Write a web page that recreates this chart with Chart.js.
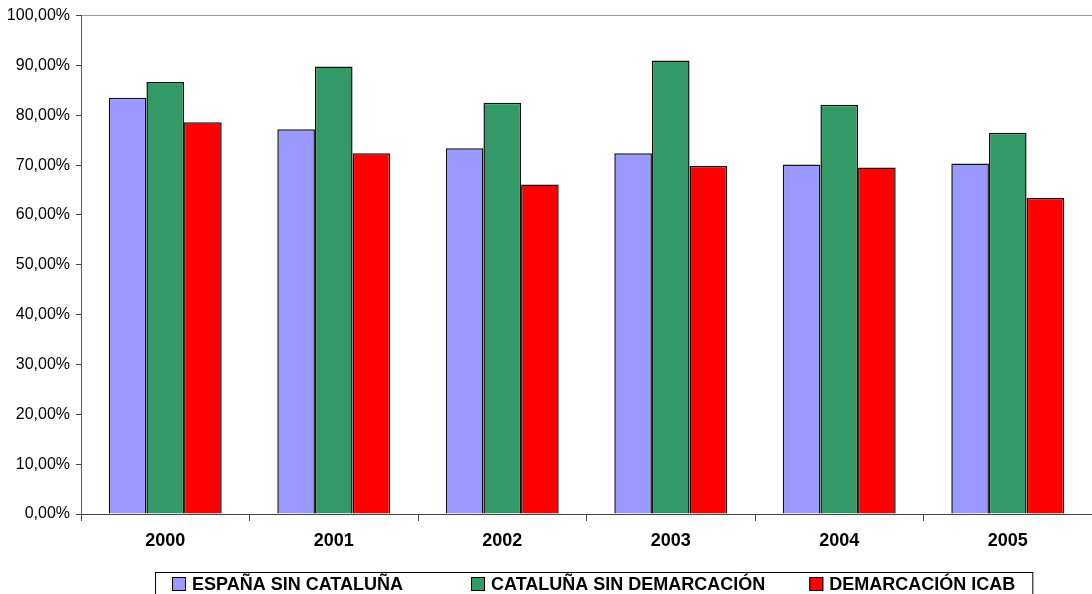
<!DOCTYPE html>
<html>
<head>
<meta charset="utf-8">
<script src="https://cdn.jsdelivr.net/npm/chart.js@4/dist/chart.umd.min.js"></script>
<style>
  html, body { margin: 0; padding: 0; background: #fff; }
  #wrap { width: 1092px; height: 594px; }
</style>
</head>
<body>
<div id="wrap"><canvas id="barChart"></canvas></div>
<script>
// data
const years = ["2000", "2001", "2002", "2003", "2004", "2005"];
const espanaSinCataluna = [83.5, 77.2, 73.4, 72.4, 70.1, 70.3];
const catalunaSinDemarcacion = [86.7, 89.8, 82.5, 91.0, 82.1, 76.5];
const demarcacionIcab = [78.6, 72.4, 66.1, 69.8, 69.5, 63.4];
const seriesNames = ["ESPAÑA SIN CATALUÑA", "CATALUÑA SIN DEMARCACIÓN", "DEMARCACIÓN ICAB"];

const FONT = "Arial, 'Liberation Sans', sans-serif";

// Excel style legend: boxed row at the bottom, built from the datasets
const boxedLegend = {
    id: "boxedLegend",
    afterDraw(chart) {
        let ctx = chart.ctx;
        let sets = chart.data.datasets;
        let sq = 14, gap = 6, itemGaps = [68, 44];
        ctx.save();
        ctx.font = "bold 18px " + FONT;
        ctx.textBaseline = "middle";
        let widths = sets.map(ds => sq + gap + ctx.measureText(ds.label).width);
        let total = widths.reduce((a, b) => a + b, 0) + itemGaps.reduce((a, b) => a + b, 0);
        let x = Math.round(594 - total / 2);
        let cy = 584;
        // frame
        ctx.strokeStyle = "#000";
        ctx.lineWidth = 1;
        ctx.strokeRect(x - 17 + 0.5, cy - 12 + 0.5, total + 34, 40);
        sets.forEach((ds, i) => {
            ctx.fillStyle = ds.backgroundColor;
            ctx.fillRect(x, cy - 7, sq, sq);
            ctx.strokeStyle = "#000";
            ctx.strokeRect(x + 0.5, cy - 7 + 0.5, sq - 1, sq - 1);
            ctx.fillStyle = "#000";
            ctx.fillText(ds.label, x + sq + gap, cy + 1);
            x += widths[i] + (itemGaps[i] || 0);
        });
        ctx.restore();
    }
};

let ctx = document.getElementById("barChart").getContext("2d");

new Chart(ctx, {
    type: "bar",
    data: {
        labels: years,
        datasets: [
            { label: seriesNames[0], data: espanaSinCataluna, backgroundColor: "#9999FF" },
            { label: seriesNames[1], data: catalunaSinDemarcacion, backgroundColor: "#339966" },
            { label: seriesNames[2], data: demarcacionIcab, backgroundColor: "#FF0000" }
        ]
    },
    options: {
        responsive: true,
        maintainAspectRatio: false,
        animation: false,
        layout: { padding: { top: 10, right: 0, left: 0, bottom: 42 } },
        datasets: {
            bar: {
                borderColor: "#111",
                borderWidth: 1.5,
                barPercentage: 1.0,
                categoryPercentage: 0.67
            }
        },
        plugins: {
            tooltip: { enabled: false },
            legend: { display: false }
        },
        scales: {
            x: {
                offset: true,
                afterFit(scale) { scale.height = 38; },
                grid: {
                    offset: true,
                    drawOnChartArea: false,
                    tickLength: 7,
                    tickColor: "#444"
                },
                border: { color: "#444", width: 1 },
                ticks: {
                    color: "#000",
                    padding: 9,
                    font: { family: FONT, size: 18, weight: "bold" }
                }
            },
            y: {
                min: 0,
                max: 100,
                afterFit(scale) { scale.width = 81; },
                grid: {
                    color: c => (c.tick && c.tick.value === 100 ? "#999" : "rgba(0,0,0,0)"),
                    tickLength: 5,
                    tickColor: "#444"
                },
                border: { color: "#555", width: 1 },
                ticks: {
                    stepSize: 10,
                    color: "#000",
                    padding: 6,
                    font: { family: FONT, size: 16 },
                    callback: v => v.toFixed(2).replace(".", ",") + "%"
                }
            }
        }
    },
    plugins: [boxedLegend]
});
</script>
</body>
</html>
